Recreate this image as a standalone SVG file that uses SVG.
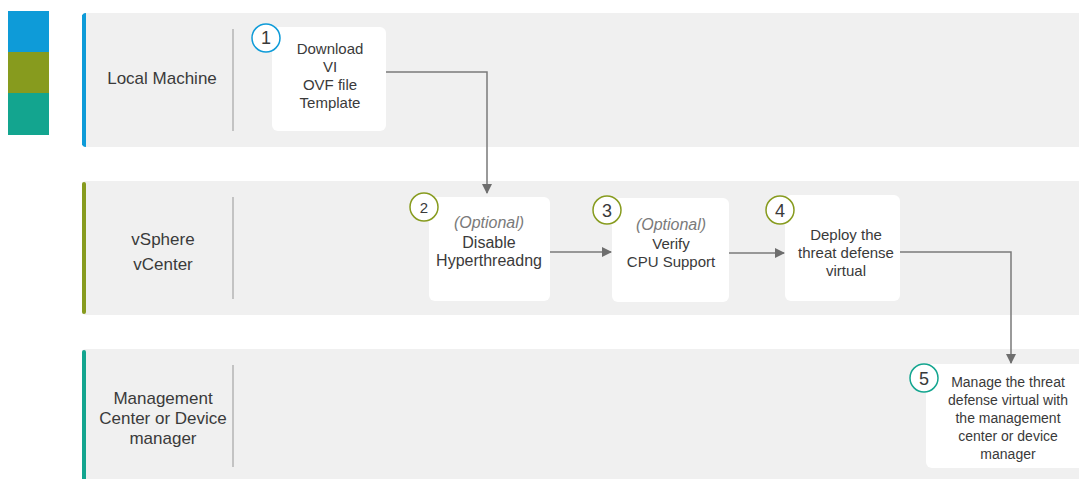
<svg xmlns="http://www.w3.org/2000/svg" width="1079" height="479" viewBox="0 0 1079 479">
<style>
.lane{fill:#f0f0f0}
.div{stroke:#b5b5b5;stroke-width:1.5}
.node{fill:#ffffff}
.t{font-family:"Liberation Sans",Arial,sans-serif;fill:#3a3a3a;text-anchor:middle}
.lt{font-size:17px}
.nt{font-size:15px}
.it{font-style:italic;fill:#7a7a7a}
.num{font-family:"Liberation Sans",Arial,sans-serif;font-size:18px;fill:#3a3a3a;text-anchor:middle}
.conn{fill:none;stroke:#7a7a7a;stroke-width:1.5}
</style>
<defs>
<marker id="ah" markerWidth="10" markerHeight="10" refX="9" refY="5" orient="auto" markerUnits="userSpaceOnUse">
<path d="M0,0 L10,5 L0,10 z" fill="#6e6e6e"/>
</marker>
</defs>
<rect width="1079" height="479" fill="#ffffff"/>
<g id="legend">
<rect x="8" y="11" width="41" height="41" fill="#0e9bd8"/>
<rect x="8" y="52" width="41" height="41" fill="#879b1e"/>
<rect x="8" y="93" width="41" height="42" fill="#13a58f"/>
</g>
<g id="lane-local">
<rect class="lane" x="82" y="13" width="1000" height="134" rx="4"/>
<path d="M86,13 A4,4 0 0 0 82,17 L82,143 A4,4 0 0 0 86,147 Z" fill="#0e9bd8"/>
<rect x="82" y="15" width="4" height="130" fill="#0e9bd8"/>
<line class="div" x1="233" y1="29" x2="233" y2="131"/>
<text class="t lt" x="162" y="84">Local Machine</text>
</g>
<g id="lane-vsphere">
<rect class="lane" x="82" y="181" width="1000" height="134" rx="4"/>
<rect x="82" y="182" width="4" height="132" rx="2" fill="#879b1e"/>
<line class="div" x1="233" y1="197" x2="233" y2="299"/>
<text class="t lt" x="163" y="245">vSphere</text>
<text class="t lt" x="163" y="270">vCenter</text>
</g>
<g id="lane-mgmt">
<rect class="lane" x="82" y="349" width="1000" height="134" rx="4"/>
<rect x="82" y="350" width="4" height="132" rx="2" fill="#13a58f"/>
<line class="div" x1="233" y1="365" x2="233" y2="467"/>
<text class="t lt" x="163" y="404">Management</text>
<text class="t lt" x="163" y="424">Center or Device</text>
<text class="t lt" x="163" y="444">manager</text>
</g>
<g id="connectors">
<path class="conn" d="M386,72 H487 V193" marker-end="url(#ah)"/>
<path class="conn" d="M550,252 H611" marker-end="url(#ah)"/>
<path class="conn" d="M729,253 H784" marker-end="url(#ah)"/>
<path class="conn" d="M900,252 H1011 V363" marker-end="url(#ah)"/>
</g>
<g id="node1">
<rect class="node" x="272" y="27" width="114" height="104" rx="6"/>
<circle cx="266" cy="38" r="14" fill="#ffffff" stroke="#0e9bd8" stroke-width="1.5"/>
<text class="num" x="266" y="44">1</text>
<text class="t nt" x="330" y="54">Download</text>
<text class="t nt" x="330" y="72">VI</text>
<text class="t nt" x="330" y="90">OVF file</text>
<text class="t nt" x="330" y="108">Template</text>
</g>
<g id="node2">
<rect class="node" x="429" y="197" width="121" height="104" rx="6"/>
<circle cx="424" cy="207" r="14" fill="#ffffff" stroke="#879b1e" stroke-width="1.5"/>
<text class="num" x="424" y="213" style="font-size:15px">2</text>
<text class="t it" x="489" y="228" style="font-size:16px">(Optional)</text>
<text class="t" x="489" y="248" style="font-size:16px">Disable</text>
<text class="t" x="489" y="266" style="font-size:16px">Hyperthreadng</text>
</g>
<g id="node3">
<rect class="node" x="612" y="198" width="117" height="104" rx="6"/>
<circle cx="607" cy="210" r="14" fill="#ffffff" stroke="#879b1e" stroke-width="1.5"/>
<text class="num" x="607" y="217">3</text>
<text class="t it" x="671" y="230" style="font-size:16px">(Optional)</text>
<text class="t nt" x="671" y="249">Verify</text>
<text class="t nt" x="671" y="267">CPU Support</text>
</g>
<g id="node4">
<rect class="node" x="785" y="195" width="115" height="106" rx="6"/>
<circle cx="780" cy="210" r="14" fill="#ffffff" stroke="#879b1e" stroke-width="1.5"/>
<text class="num" x="780" y="217">4</text>
<text class="t nt" x="846" y="240">Deploy the</text>
<text class="t nt" x="846" y="258">threat defense</text>
<text class="t nt" x="846" y="276">virtual</text>
</g>
<g id="node5">
<rect class="node" x="926" y="364" width="160" height="104" rx="6"/>
<circle cx="924" cy="378" r="14" fill="#ffffff" stroke="#13a58f" stroke-width="1.5"/>
<text class="num" x="924" y="385">5</text>
<text class="t" x="1008" y="387" style="font-size:14px">Manage the threat</text>
<text class="t" x="1008" y="405" style="font-size:14px">defense virtual with</text>
<text class="t" x="1008" y="423" style="font-size:14px">the management</text>
<text class="t" x="1008" y="441" style="font-size:14px">center or device</text>
<text class="t" x="1008" y="459" style="font-size:14px">manager</text>
</g>
</svg>
